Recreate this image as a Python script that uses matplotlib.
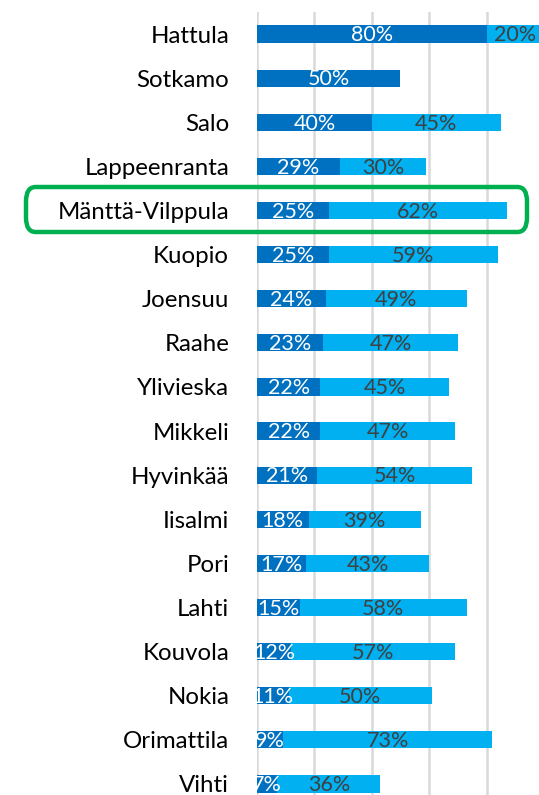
import matplotlib.pyplot as plt
import numpy as np
from matplotlib.patches import FancyBboxPatch

# data, top to bottom
cities = ["Hattula", "Sotkamo", "Salo", "Lappeenranta", "Mänttä-Vilppula", "Kuopio",
          "Joensuu", "Raahe", "Ylivieska", "Mikkeli", "Hyvinkää", "Iisalmi", "Pori",
          "Lahti", "Kouvola", "Nokia", "Orimattila", "Vihti"]
first = [80, 50, 40, 29, 25, 25, 24, 23, 22, 22, 21, 18, 17, 15, 12, 11, 9, 7]
second = [20, 0, 45, 30, 62, 59, 49, 47, 45, 47, 54, 39, 43, 58, 57, 50, 73, 36]

plt.rcParams["font.family"] = ["Lato", "DejaVu Sans"]

W, H = 539, 795
fig = plt.figure(figsize=(W / 100, H / 100), dpi=100)
# axes runs past the right and bottom edges, like the cropped original
ax = fig.add_axes([257 / W, 1 - 806 / H, (544 - 257) / W, (806 - 12) / H])

y = np.arange(len(cities))
dark = "#0070C0"
light = "#00B0F0"
h = 0.39
ax.barh(y, first, height=h, color=dark, zorder=2)
ax.barh(y, second, left=first, height=h, color=light, zorder=2)

for i in range(len(cities)):
    ax.text(first[i] / 2, y[i] + 0.03, f"{first[i]}%", ha="center", va="center",
            color="white", fontsize=15.5, zorder=3)
    if second[i] > 0:
        ax.text(first[i] + second[i] / 2, y[i] + 0.03, f"{second[i]}%", ha="center",
                va="center", color="#404040", fontsize=15.5, zorder=3)

ax.set_xlim(0, 100)
ax.set_ylim(len(cities) - 0.5, -0.5)
ax.set_xticks([0, 20, 40, 60, 80, 100])
ax.set_xticklabels([])
ax.set_yticks(y)
ax.set_yticklabels(cities, fontsize=17.3, color="black")
ax.tick_params(axis="both", length=0)
ax.tick_params(axis="y", pad=20)
ax.grid(axis="x", color="#D9D9D9", linewidth=1.8, zorder=0)
for s in ax.spines.values():
    s.set_visible(False)

# green highlight box around Mänttä-Vilppula
box = FancyBboxPatch((26 / W, 1 - 232 / H), (527 - 26) / W, (232 - 187) / H,
                     boxstyle="round,pad=0,rounding_size=0.018",
                     transform=fig.transFigure, fill=False,
                     edgecolor="#00B050", linewidth=3.2, zorder=5)
fig.patches.append(box)

fig.savefig("out.png", dpi=100)
